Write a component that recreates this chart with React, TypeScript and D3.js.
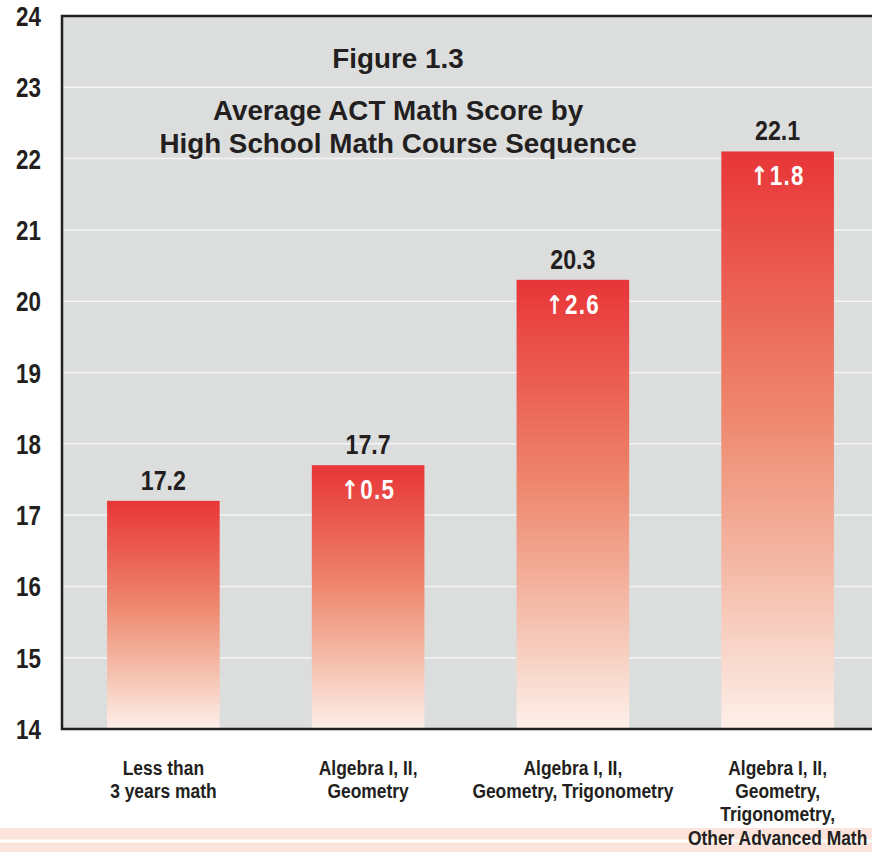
import { useEffect, useRef } from "react";
import * as d3 from "d3";

const categories = [
  ["Less than", "3 years math"],
  ["Algebra I, II,", "Geometry"],
  ["Algebra I, II,", "Geometry, Trigonometry"],
  ["Algebra I, II,", "Geometry,", "Trigonometry,", "Other Advanced Math"],
];
const scores = [17.2, 17.7, 20.3, 22.1];
const increases: (number | null)[] = [null, 0.5, 2.6, 1.8];
const yTicks = [14, 15, 16, 17, 18, 19, 20, 21, 22, 23, 24];

const sans = "'Liberation Sans', Arial, sans-serif";
const ink = "#231f20";
const squeeze = 0.83; // horizontal squeeze to mimic a condensed face

const App = () => {
  const chartRef = useRef<SVGSVGElement>(null);

  useEffect(() => {
    const width = 872;
    const plotLeft = 62;
    const plotTop = 16;
    const plotBottom = 729;

    const svg = d3.select(chartRef.current);
    svg.selectAll("*").remove();

    const defs = svg.append("defs");
    const grad = defs
      .append("linearGradient")
      .attr("id", "barGrad")
      .attr("x1", 0)
      .attr("y1", 0)
      .attr("x2", 0)
      .attr("y2", 1);
    grad.append("stop").attr("offset", "0%").attr("stop-color", "#e83538");
    grad.append("stop").attr("offset", "45%").attr("stop-color", "#ee866c");
    grad.append("stop").attr("offset", "75%").attr("stop-color", "#f5bfad");
    grad.append("stop").attr("offset", "100%").attr("stop-color", "#fdf0ea");

    const x = d3
      .scaleBand<number>()
      .domain(d3.range(categories.length))
      .range([61, 880])
      .paddingInner(0.45)
      .paddingOuter(0.225);

    const y = d3.scaleLinear().domain([14, 24]).range([plotBottom, plotTop]);
    const cx = (i: number) => x(i)! + x.bandwidth() / 2;

    // bottom stripes
    svg
      .append("g")
      .selectAll("rect")
      .data([828, 842.5])
      .join("rect")
      .attr("x", 0)
      .attr("y", (d) => d)
      .attr("width", width)
      .attr("height", (_, i) => (i === 0 ? 11.5 : 10))
      .attr("fill", "#fce4dc");

    // plot background
    svg
      .append("rect")
      .attr("x", plotLeft)
      .attr("y", plotTop)
      .attr("width", width - plotLeft)
      .attr("height", plotBottom - plotTop)
      .attr("fill", "#dcdddd");

    // gridlines
    svg
      .append("g")
      .selectAll("line")
      .data(yTicks.slice(1, -1))
      .join("line")
      .attr("x1", plotLeft)
      .attr("x2", width)
      .attr("y1", (d) => y(d))
      .attr("y2", (d) => y(d))
      .attr("stroke", "#f4f4f4")
      .attr("stroke-width", 1.5);

    // bars
    svg
      .append("g")
      .selectAll("rect")
      .data(scores)
      .join("rect")
      .attr("x", (_, i) => x(i)!)
      .attr("y", (d) => y(d))
      .attr("width", x.bandwidth())
      .attr("height", (d) => plotBottom - y(d))
      .attr("fill", "url(#barGrad)");

    // frame: top, left, bottom
    svg
      .append("path")
      .attr("d", `M${width},${plotTop}H${plotLeft}V${plotBottom}H${width}`)
      .attr("fill", "none")
      .attr("stroke", ink)
      .attr("stroke-width", 2.5);

    // y tick labels
    svg
      .append("g")
      .selectAll("text")
      .data(yTicks)
      .join("text")
      .attr("transform", (d) => `translate(41,${y(d) + 10}) scale(${squeeze},1)`)
      .attr("text-anchor", "end")
      .attr("font-family", sans)
      .attr("font-weight", "bold")
      .attr("font-size", 27)
      .attr("fill", ink)
      .text((d) => d);

    // value labels
    svg
      .append("g")
      .selectAll("text")
      .data(scores)
      .join("text")
      .attr("transform", (d, i) => `translate(${cx(i)},${y(d) - 11}) scale(${squeeze},1)`)
      .attr("text-anchor", "middle")
      .attr("font-family", sans)
      .attr("font-weight", "bold")
      .attr("font-size", 28)
      .attr("fill", ink)
      .text((d) => d.toFixed(1));

    // increase labels
    const inc = svg
      .append("g")
      .selectAll("text")
      .data(increases.map((v, i) => ({ v, i })).filter((d) => d.v !== null))
      .join("text")
      .attr("transform", (d) => `translate(${cx(d.i)},${y(scores[d.i]) + 34}) scale(${squeeze},1)`)
      .attr("text-anchor", "middle")
      .attr("font-family", sans)
      .attr("font-weight", "bold")
      .attr("font-size", 27)
      .attr("letter-spacing", 1.5)
      .attr("fill", "#ffffff");
    inc
      .append("tspan")
      .attr("font-family", "'DejaVu Sans', sans-serif")
      .attr("font-size", 26)
      .text("↑");
    inc.append("tspan").text((d) => d.v!.toFixed(1));

    // category labels
    svg
      .append("g")
      .selectAll("g")
      .data(categories)
      .join("g")
      .attr("transform", (_, i) => `translate(${cx(i)},0)`)
      .selectAll("text")
      .data((d) => d)
      .join("text")
      .attr("transform", (_, j) => `translate(0,${775 + j * 23.2}) scale(${squeeze},1)`)
      .attr("text-anchor", "middle")
      .attr("font-family", sans)
      .attr("font-weight", "bold")
      .attr("font-size", 21)
      .attr("fill", ink)
      .text((d) => d);

    // titles
    const titles = [
      { text: "Figure 1.3", y: 68 },
      { text: "Average ACT Math Score by", y: 120 },
      { text: "High School Math Course Sequence", y: 153 },
    ];
    svg
      .append("g")
      .selectAll("text")
      .data(titles)
      .join("text")
      .attr("x", 398)
      .attr("y", (d) => d.y)
      .attr("text-anchor", "middle")
      .attr("font-family", sans)
      .attr("font-weight", "bold")
      .attr("font-size", 27.8)
      .attr("fill", ink)
      .text((d) => d.text);

    return () => {
      svg.selectAll("*").remove();
    };
  }, []);

  return (
    <svg
      ref={chartRef}
      width={872}
      height={852}
      style={{ position: "absolute", left: 0, top: 0, background: "#fff" }}
    />
  );
};

export default App;
